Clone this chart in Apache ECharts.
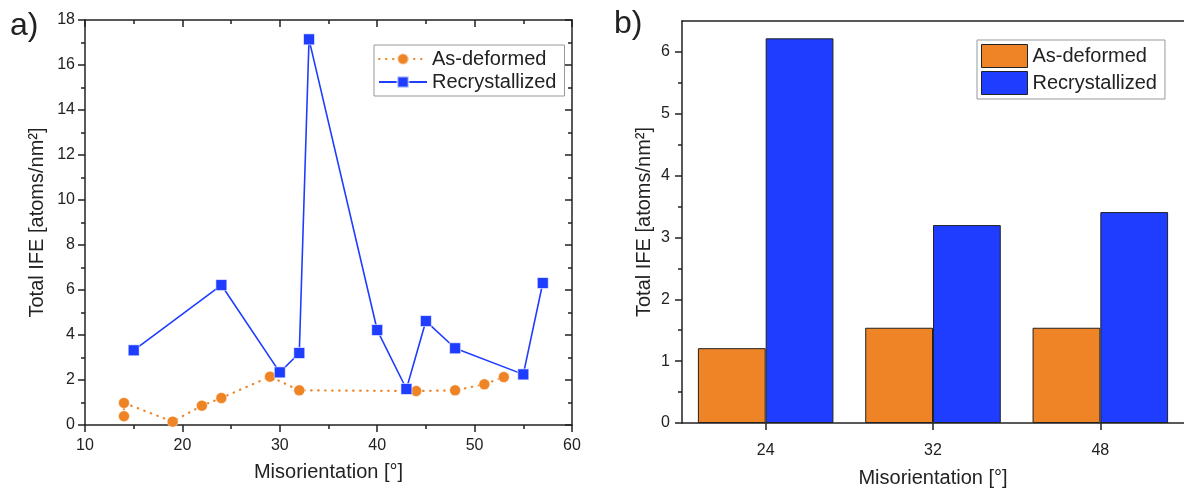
<!DOCTYPE html>
<html>
<head>
<meta charset="utf-8">
<script src="https://cdn.jsdelivr.net/npm/echarts@6/dist/echarts.min.js"></script>
<style>
  html, body { margin: 0; padding: 0; background: #fff; }
  #chart { width: 1184px; height: 493px; }
</style>
</head>
<body>
<div id="chart"></div>
<script>
// Panel a): total interfacial excess vs. boundary misorientation
const deformedPoints = [
  [14, 0.39], [14, 0.98], [19, 0.15], [22, 0.86], [24, 1.2], [29, 2.15],
  [32, 1.54], [44, 1.51], [48, 1.54], [51, 1.81], [53, 2.13]
];
const recrystPoints = [
  [15, 3.32], [24, 6.22], [30, 2.34], [32, 3.2], [33, 17.14], [40, 4.22],
  [43, 1.6], [45, 4.62], [48, 3.41], [55, 2.25], [57, 6.31]
];

// Panel b): selected boundaries compared side by side
const barCategories = ['24', '32', '48'];
const deformedBars = [1.21, 1.54, 1.54];
const recrystBars = [6.22, 3.2, 3.41];

// Tick values for panel b) y axis
const barMajorTicks = [0, 1, 2, 3, 4, 5, 6];
const barMinorTicks = barMajorTicks.slice(0, -1).map(v => v + 0.5);

const ORANGE = '#ef8427';
const BLUE = '#1f3dff';
const AXIS = '#222';
const FONT = 'Liberation Sans, Arial, sans-serif';

const axisLine = { show: true, onZero: false, lineStyle: { color: AXIS, width: 1.5 } };
const tickLabel = { color: AXIS, fontSize: 16, fontFamily: FONT };
const titleText = { color: AXIS, fontSize: 20, fontFamily: FONT };

const chart = echarts.init(document.getElementById('chart'), null, { renderer: 'canvas' });

chart.setOption({
  animation: false,
  backgroundColor: '#fff',
  textStyle: { fontFamily: FONT },
  graphic: [
    { type: 'text', left: 10, top: 10, style: { text: 'a)', fontSize: 32, fontFamily: FONT, fill: AXIS } },
    { type: 'text', left: 614, top: 8, style: { text: 'b)', fontSize: 32, fontFamily: FONT, fill: AXIS } }
  ],
  grid: [
    { left: 85, top: 20, right: 612, bottom: 68 },
    { left: 682, top: 21, right: 0, bottom: 68 }
  ],
  legend: [
    {
      left: 374, top: 45, orient: 'vertical',
      itemWidth: 48, itemHeight: 14, itemGap: 3,
      padding: [4, 8, 4, 4],
      borderColor: '#999', borderWidth: 1,
      textStyle: { fontSize: 20, color: AXIS, fontFamily: FONT },
      data: ['As-deformed', 'Recrystallized']
    },
    {
      left: 977, top: 40, orient: 'vertical',
      itemWidth: 46, itemHeight: 23, itemGap: 3,
      padding: [4, 8, 4, 4],
      borderColor: '#999', borderWidth: 1,
      textStyle: { fontSize: 20, color: AXIS, fontFamily: FONT },
      data: [
        { name: 'As-deformed', icon: 'rect', itemStyle: { color: ORANGE, borderColor: AXIS, borderWidth: 1 } },
        { name: 'Recrystallized', icon: 'rect', itemStyle: { color: BLUE, borderColor: AXIS, borderWidth: 1 } }
      ]
    }
  ],
  xAxis: [
    {
      gridIndex: 0, type: 'value', position: 'bottom',
      min: 10, max: 60, interval: 10,
      axisLine, splitLine: { show: false },
      axisTick: { show: true, length: 7, lineStyle: { color: AXIS, width: 1.5 } },
      minorTick: { show: true, splitNumber: 2, length: 4, lineStyle: { color: AXIS, width: 1.5 } },
      axisLabel: { ...tickLabel, margin: 13 },
      name: 'Misorientation [°]', nameLocation: 'middle', nameGap: 37, nameTextStyle: titleText
    },
    {
      gridIndex: 0, type: 'value', position: 'top',
      min: 10, max: 60, interval: 10,
      axisLine, splitLine: { show: false }, axisLabel: { show: false },
      axisTick: { show: true, inside: true, length: 7, lineStyle: { color: AXIS, width: 1.5 } },
      minorTick: { show: true, splitNumber: 2, length: 4, lineStyle: { color: AXIS, width: 1.5 } }
    },
    {
      gridIndex: 1, type: 'category', position: 'bottom', data: barCategories,
      axisLine,
      axisTick: { show: true, alignWithLabel: true, length: 7, lineStyle: { color: AXIS, width: 1.5 } },
      axisLabel: { ...tickLabel, margin: 20 },
      name: 'Misorientation [°]', nameLocation: 'middle', nameGap: 45, nameTextStyle: titleText
    },
    {
      gridIndex: 1, type: 'category', position: 'top', data: barCategories,
      axisLine, axisTick: { show: false }, axisLabel: { show: false }
    }
  ],
  yAxis: [
    {
      gridIndex: 0, type: 'value', position: 'left',
      min: 0, max: 18, interval: 2,
      axisLine, splitLine: { show: false },
      axisTick: { show: true, length: 7, lineStyle: { color: AXIS, width: 1.5 } },
      minorTick: { show: true, splitNumber: 2, length: 4, lineStyle: { color: AXIS, width: 1.5 } },
      axisLabel: { ...tickLabel, margin: 10 },
      name: 'Total IFE [atoms/nm²]', nameLocation: 'middle', nameGap: 38, nameTextStyle: titleText
    },
    {
      gridIndex: 0, type: 'value', position: 'right',
      min: 0, max: 18, interval: 2,
      axisLine, splitLine: { show: false }, axisLabel: { show: false },
      axisTick: { show: true, inside: true, length: 7, lineStyle: { color: AXIS, width: 1.5 } },
      minorTick: { show: true, splitNumber: 2, length: 4, lineStyle: { color: AXIS, width: 1.5 } }
    },
    {
      gridIndex: 1, type: 'value', position: 'left',
      min: 0, max: 6.5,
      axisLine, splitLine: { show: false },
      axisTick: { show: true, length: 7, customValues: barMajorTicks, lineStyle: { color: AXIS, width: 1.5 } },
      axisLabel: { ...tickLabel, margin: 12, customValues: barMajorTicks },
      name: 'Total IFE [atoms/nm²]', nameLocation: 'middle', nameGap: 28, nameTextStyle: titleText
    },
    {
      // minor ticks of panel b)
      gridIndex: 1, type: 'value', position: 'left',
      min: 0, max: 6.5,
      axisLine: { show: false }, splitLine: { show: false },
      axisTick: { show: true, length: 4, customValues: barMinorTicks, lineStyle: { color: AXIS, width: 1.5 } },
      axisLabel: { show: false }
    }
  ],
  series: [
    {
      name: 'As-deformed', type: 'line', xAxisIndex: 0, yAxisIndex: 0,
      data: deformedPoints,
      symbol: 'circle', symbolSize: 11,
      itemStyle: { color: ORANGE, borderColor: 'rgba(255,255,255,0.5)', borderWidth: 1 },
      lineStyle: { color: ORANGE, width: 2.2, type: [0.5, 6.5], cap: 'round' },
      z: 2
    },
    {
      name: 'Recrystallized', type: 'line', xAxisIndex: 0, yAxisIndex: 0,
      data: recrystPoints,
      symbol: 'rect', symbolSize: 11,
      itemStyle: { color: BLUE, borderColor: 'rgba(255,255,255,0.6)', borderWidth: 1 },
      lineStyle: { color: BLUE, width: 1.6 },
      z: 3
    },
    {
      name: 'As-deformed', type: 'bar', xAxisIndex: 2, yAxisIndex: 2,
      data: deformedBars,
      barGap: '0%', barCategoryGap: '19%',
      itemStyle: { color: ORANGE, borderColor: AXIS, borderWidth: 1 }
    },
    {
      name: 'Recrystallized', type: 'bar', xAxisIndex: 2, yAxisIndex: 2,
      data: recrystBars,
      barGap: '0%', barCategoryGap: '19%',
      itemStyle: { color: BLUE, borderColor: AXIS, borderWidth: 1 }
    }
  ]
});
</script>
</body>
</html>
